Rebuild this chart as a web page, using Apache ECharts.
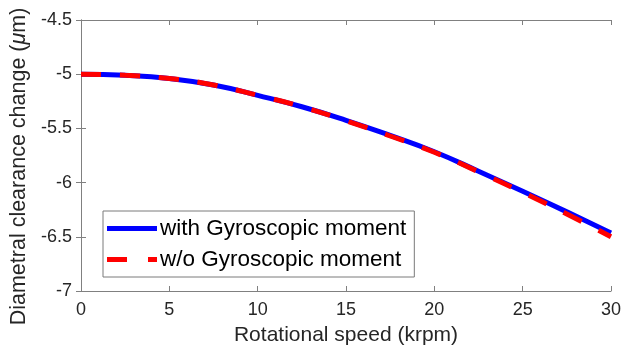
<!DOCTYPE html>
<html>
<head>
<meta charset="utf-8">
<script src="https://cdn.jsdelivr.net/npm/echarts@6/dist/echarts.min.js"></script>
<style>
  html, body { margin: 0; padding: 0; background: #fff; }
  #chart { width: 634px; height: 354px; }
</style>
</head>
<body>
<div id="chart"></div>
<script>
// Rotational speed (krpm)
const speed = [0, 2.5, 5, 7.5, 10, 12.5, 15, 17.5, 20, 22.5, 25, 27.5, 30];
// Diametral clearance change (um)
const withGyro = [-5.00, -5.01, -5.04, -5.10, -5.195, -5.30, -5.425, -5.565, -5.715, -5.895, -6.08, -6.27, -6.465];
const withoutGyro = [-5.00, -5.01, -5.04, -5.10, -5.195, -5.30, -5.43, -5.57, -5.72, -5.90, -6.09, -6.29, -6.50];
const seriesNames = ['with Gyroscopic moment', 'w/o Gyroscopic moment'];

const FONT = 'Liberation Sans, Arial, sans-serif';
const INK = '#262626';
const AXIS = '#808080';

const pairs = arr => speed.map((x, i) => [x, arr[i]]);

const chart = echarts.init(document.getElementById('chart'), null, { renderer: 'canvas' });

const boxAxis = {
  axisLine: { show: true, lineStyle: { color: AXIS, width: 1 } },
  axisTick: { show: true, inside: true, length: 5, lineStyle: { color: AXIS } },
  axisLabel: { show: false },
  splitLine: { show: false }
};

// legend keys: solid bar and a dash-gap-dash bar
const solidKey = 'path://M0,0H50V5H0Z';
const dashedKey = 'path://M0,0H20V5H0Z M41,0H50V5H41Z';

chart.setOption({
  animation: false,
  backgroundColor: '#fff',
  grid: { left: 81, right: 23, top: 20, bottom: 63, containLabel: false },
  legend: {
    left: 103, top: 211, orient: 'vertical',
    backgroundColor: '#fff',
    borderColor: '#7a7a7a', borderWidth: 1,
    padding: [6, 8, 6, 4],
    itemGap: 8,
    itemWidth: 50, itemHeight: 22,
    itemStyle: { borderWidth: 0 },
    textStyle: { fontFamily: FONT, fontSize: 22.5, color: '#000', lineHeight: 22, padding: [0, 0, 0, -2] },
    data: [
      { name: seriesNames[0], icon: solidKey },
      { name: seriesNames[1], icon: dashedKey }
    ]
  },
  xAxis: [
    Object.assign({}, boxAxis, {
      type: 'value', min: 0, max: 30, interval: 5, position: 'bottom',
      axisLabel: { show: true, fontFamily: FONT, fontSize: 18, color: INK, margin: 10 },
      name: 'Rotational speed (krpm)', nameLocation: 'middle', nameGap: 34,
      nameTextStyle: { fontFamily: FONT, fontSize: 21, color: INK }
    }),
    Object.assign({}, boxAxis, { type: 'value', min: 0, max: 30, interval: 5, position: 'top' })
  ],
  yAxis: [
    Object.assign({}, boxAxis, {
      type: 'value', min: -7, max: -4.5, interval: 0.5, position: 'left',
      axisLabel: { show: true, fontFamily: FONT, fontSize: 18, color: INK, margin: 9 },
      name: 'Diametral clearance change ({it|μ}m)', nameLocation: 'middle', nameGap: 45,
      nameTextStyle: {
        fontFamily: FONT, fontSize: 21.5, color: INK, padding: [0, 22, 0, 0],
        rich: { it: { fontFamily: FONT, fontSize: 21.5, fontStyle: 'italic', color: INK } }
      }
    }),
    Object.assign({}, boxAxis, { type: 'value', min: -7, max: -4.5, interval: 0.5, position: 'right' })
  ],
  series: [
    {
      name: seriesNames[0], type: 'line', data: pairs(withGyro),
      smooth: true, showSymbol: false, symbol: 'none',
      lineStyle: { color: '#0000ff', width: 5 }, itemStyle: { color: '#0000ff', borderWidth: 0 }
    },
    {
      name: seriesNames[1], type: 'line', data: pairs(withoutGyro),
      smooth: true, showSymbol: false, symbol: 'none',
      lineStyle: { color: '#ff0000', width: 5, type: [20, 19] }, itemStyle: { color: '#ff0000', borderWidth: 0 }
    }
  ]
});
</script>
</body>
</html>
